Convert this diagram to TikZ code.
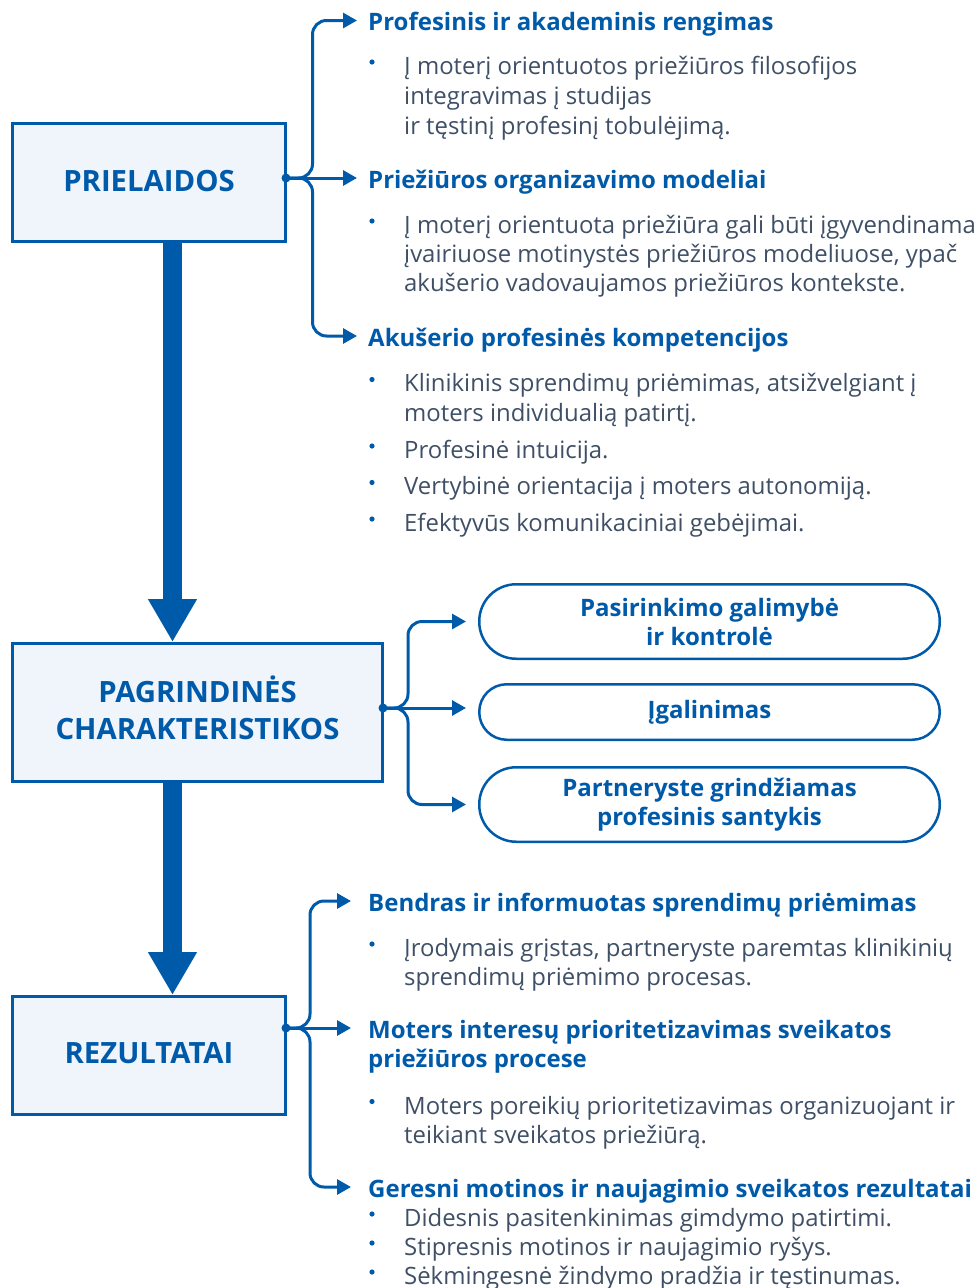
\documentclass[tikz,border=0pt]{standalone}
\usepackage{fontspec}
\setmainfont{Open Sans}
\usetikzlibrary{arrows.meta,calc}
\definecolor{mblue}{HTML}{005AAA}
\definecolor{mtext}{HTML}{3E4F66}
\definecolor{mfill}{HTML}{F0F5FC}
\begin{document}
\begin{tikzpicture}[x=1pt,y=-1pt,
 titlebox/.style={draw=mblue, fill=mfill, line width=3pt, inner sep=0pt},
 titletext/.style={inner sep=0pt, font=\fontsize{29.3}{37}\selectfont\bfseries, text=mblue, align=center},
 pill/.style={draw=mblue, fill=white, line width=2.5pt, inner sep=0pt, minimum width=460.5pt, font=\fontsize{24}{29}\selectfont\bfseries, text=mblue, align=center},
 head/.style={anchor=base west, inner sep=0pt, font=\fontsize{24}{29}\selectfont\bfseries, text=mblue},
 body/.style={anchor=base west, inner sep=0pt, font=\fontsize{23.9}{29.7}\selectfont, text=mtext},
 conn/.style={draw=mblue, line width=3pt, -{Triangle[length=14pt,width=15pt]}, rounded corners=14pt},
 big/.style={draw=mblue, line width=19pt, -{Triangle[length=43pt,width=46pt]}}]
\useasboundingbox (0,0) rectangle (980,1288);

% main boxes
\node[titlebox, minimum width=273pt, minimum height=118pt] (b1) at (149,182.5) {};
\node[titletext] (b1t) at (149,181.5) {PRIELAIDOS};
\node[titlebox, minimum width=370pt, minimum height=138pt] (b2) at (197.5,712.5) {};
\node[titletext] (b2t) at (197.5,708) {PAGRINDINĖS\\CHARAKTERISTIKOS};
\node[titlebox, minimum width=273pt, minimum height=118pt] (b3) at (149,1055.5) {};
\node[titletext] (b3t) at (149,1053.5) {REZULTATAI};

% big arrows
\draw[big] ($(b1.south)+(23.5,0)$) -- ($(b2.north)+(-25,0)$);
\draw[big] ($(b2.south)+(-25,0)$) -- ($(b3.north)+(23.5,0)$);

% dots
\coordinate (d1) at (286,178);
\coordinate (d2) at (383,708);
\coordinate (d3) at (286,1028);

% top headings
\node[head] (h1) at (368,30.5) {Profesinis ir akademinis rengimas};
\node[head] (h2) at (368,188) {Priežiūros organizavimo modeliai};
\node[head] (h3) at (368,346) {Akušerio profesinės kompetencijos};

\draw[conn] (d1) -| ($(h1.base west)+(-55.5,-10)$) -- ($(h1.base west)+(-11,-10)$);
\draw[conn] (d1) -- ($(h2.base west)+(-11,-10)$);
\draw[conn] (d1) -| ($(h3.base west)+(-55.5,-10)$) -- ($(h3.base west)+(-11,-10)$);
\fill[mblue] (d1) circle (4.5pt);

% top bodies
\node[body] (t11) at (404,74.5) {Į moterį orientuotos priežiūros filosofijos};
\node[body] (t12) at (404,104.5) {integravimas į studijas};
\node[body] (t13) at (404,134.5) {ir tęstinį profesinį tobulėjimą.};
\fill[mblue] (372,62) circle (2.6pt);

\node[body] (t21) at (404,233.5) {Į moterį orientuota priežiūra gali būti įgyvendinama};
\node[body] (t22) at (404,262.5) {įvairiuose motinystės priežiūros modeliuose, ypač};
\node[body] (t23) at (404,291.5) {akušerio vadovaujamos priežiūros kontekste.};
\fill[mblue] (372,221) circle (2.6pt);

\node[body] (t31) at (404,391.5) {Klinikinis sprendimų priėmimas, atsižvelgiant į};
\node[body] (t32) at (404,421) {moters individualią patirtį.};
\node[body] (t33) at (404,458) {Profesinė intuicija.};
\node[body] (t34) at (404,494.5) {Vertybinė orientacija į moters autonomiją.};
\node[body] (t35) at (404,531) {Efektyvūs komunikaciniai gebėjimai.};
\fill[mblue] (372,379.5) circle (2.6pt);
\fill[mblue] (372,446) circle (2.6pt);
\fill[mblue] (372,482.5) circle (2.6pt);
\fill[mblue] (372,519) circle (2.6pt);

% pills
\node[pill, minimum height=74.5pt, rounded corners=37pt] (p1) at (709.5,621.5) {Pasirinkimo galimybė\\ir kontrolė};
\node[pill, minimum height=55.5pt, rounded corners=27.5pt] (p2) at (709.5,712) {Įgalinimas};
\node[pill, minimum height=74.5pt, rounded corners=37pt] (p3) at (709.5,804.5) {Partneryste grindžiamas\\profesinis santykis};

\draw[conn] (d2) -| ($(p1.west)+(-70,0)$) -- ($(p1.west)+(-12,0)$);
\draw[conn] (d2) -- ($(d2 -| p2.west)+(-12,0)$);
\draw[conn] (d2) -| ($(p3.west)+(-70,0)$) -- ($(p3.west)+(-12,0)$);
\fill[mblue] (d2) circle (4.5pt);

% bottom headings
\node[head] (h4) at (368,911) {Bendras ir informuotas sprendimų priėmimas};
\node[head] (h5) at (368,1038) {Moters interesų prioritetizavimas sveikatos};
\node[head] (h5b) at (368,1067.5) {priežiūros procese};
\node[head] (h6) at (368,1197) {Geresni motinos ir naujagimio sveikatos rezultatai};

\draw[conn] (d3) -| ($(h4.base west)+(-58,-10)$) -- ($(h4.base west)+(-17,-10)$);
\draw[conn] (d3) -- ($(h5.base west)+(-17,-10)$);
\draw[conn] (d3) -| ($(h6.base west)+(-58,-10)$) -- ($(h6.base west)+(-17,-10)$);
\fill[mblue] (d3) circle (4.5pt);

% bottom bodies
\node[body] (u11) at (404,956.5) {Įrodymais grįstas, partneryste paremtas klinikinių};
\node[body] (u12) at (404,985.5) {sprendimų priėmimo procesas.};
\fill[mblue] (372,944) circle (2.6pt);

\node[body] (u21) at (404,1114) {Moters poreikių prioritetizavimas organizuojant ir};
\node[body] (u22) at (404,1143.5) {teikiant sveikatos priežiūrą.};
\fill[mblue] (372,1101.5) circle (2.6pt);

\node[body] (u31) at (404,1226) {Didesnis pasitenkinimas gimdymo patirtimi.};
\node[body] (u32) at (404,1255) {Stipresnis motinos ir naujagimio ryšys.};
\node[body] (u33) at (404,1284) {Sėkmingesnė žindymo pradžia ir tęstinumas.};
\fill[mblue] (372,1214) circle (2.6pt);
\fill[mblue] (372,1243) circle (2.6pt);
\fill[mblue] (372,1272) circle (2.6pt);
\end{tikzpicture}
\end{document}
